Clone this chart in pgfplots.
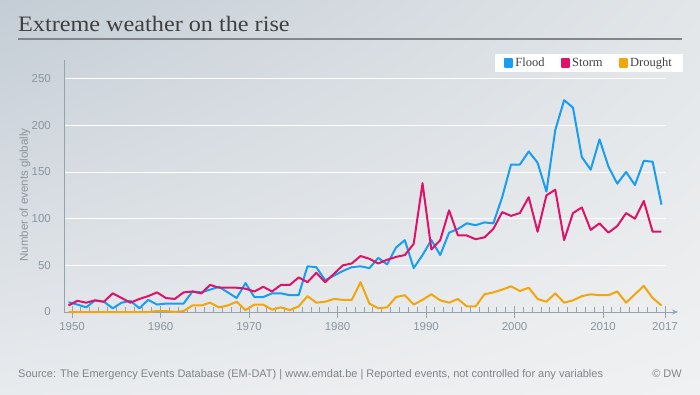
\documentclass[border=0pt]{standalone}
\usepackage{pgfplots}
\pgfplotsset{compat=1.18}
\usepackage{pgfplotstable}
\usepackage{fontspec}
\setmainfont{Liberation Serif}
\setsansfont{Liberation Sans}
\newfontfamily\titlefont[FakeStretch=1.1]{Liberation Serif}
\usetikzlibrary{arrows.meta,shadings}

\definecolor{flood}{RGB}{24,158,240}
\definecolor{storm}{RGB}{222,18,104}
\definecolor{drought}{RGB}{242,166,12}
\definecolor{axisgrey}{RGB}{150,162,172}
\definecolor{labelgrey}{RGB}{138,150,160}
\definecolor{titlegrey}{RGB}{64,64,64}
\definecolor{footgrey}{RGB}{128,132,136}
\definecolor{bgUL}{RGB}{196,205,213}
\definecolor{bgUR}{RGB}{226,230,233}
\definecolor{bgLL}{RGB}{232,235,238}
\definecolor{bgLR}{RGB}{240,241,242}

\pgfplotstableread{
year flood storm drought
1950 10.5 7 0
1951 8 12 0
1952 5 10 0
1953 12.5 12.5 0
1954 11 11 0
1955 4 20 0
1956 10 15 0
1957 12 10 0
1958 4 14 0
1959 13 17 0
1960 8 21 1
1961 9 15 1
1962 9 14 0
1963 9 21 1
1964 22 22 7
1965 21 20 7
1966 24 29 10
1967 27 26 5
1968 21 26 7
1969 15 26 11
1970 31 25 2
1971 16 22 8
1972 16 27 8
1973 20 22 2.5
1974 20 29 5
1975 18 29 2
1976 18 37 6
1977 49 32 17
1978 48 42 10
1979 34 32 11
1980 39 41 14
1981 44 50 13
1982 48 52 13
1983 49 60 32
1984 47 57 9
1985 58 52 4
1986 51 56 5
1987 69 59 16
1988 77 61 18
1989 47 73 8
1990 61 138 13
1991 77 67 19
1992 61 77 12.5
1993 85 109 10
1994 89 82 14
1995 95 82 6
1996 93 78 6
1997 96 80 19
1998 95 89 21
1999 123 107 24
2000 158 103 27.5
2001 158 106 22.5
2002 172 123 26
2003 160 86 14
2004 129 125 11
2005 195 131 20
2006 227 77 10
2007 219 106 12.5
2008 166 112 17
2009 152.5 88 19
2010 185 95 18
2011 156 85 18
2012 137.5 92 22
2013 150 106 10
2014 136 100 19
2015 162 119 28
2016 161 86 15
2017 115 86 7
}\data

\begin{document}
\begin{tikzpicture}
\shade[upper left=bgUL, upper right=bgUR, lower left=bgLL, lower right=bgLR] (0pt,0pt) rectangle (700pt,-394pt);
\node[anchor=base west, inner sep=0pt, font=\titlefont\fontsize{22}{25}\selectfont, text=titlegrey] at (18pt,-31pt) {Extreme weather on the rise};
\draw[color={rgb,255:red,130;green,134;blue,138}, line width=1.2pt] (18pt,-39pt) -- (682pt,-39pt);
\node[anchor=base west, inner sep=0pt, font=\sffamily\fontsize{11}{13}\selectfont, text=footgrey] at (18pt,-377pt) {Source: The Emergency Events Database (EM-DAT) | www.emdat.be | Reported events, not controlled for any variables};
\node[anchor=base east, inner sep=0pt, font=\sffamily\fontsize{11}{13}\selectfont, text=footgrey] at (682pt,-377pt) {© DW};
\node[rotate=90, inner sep=0pt, font=\sffamily\fontsize{11.5}{13}\selectfont, text=labelgrey] at (25pt,-195pt) {Number of events globally};

\begin{axis}[
  at={(64pt,-312pt)}, anchor=south west,
  scale only axis, width=602pt, height=252pt,
  xmin=1949.49, xmax=2017.51, ymin=0, ymax=270,
  clip=false,
  axis lines*=left,
  x axis line style={color=axisgrey, line width=1pt, -{Stealth[length=6pt,width=5pt]}, shorten >=-12pt},
  y axis line style={color=axisgrey, line width=1pt},
  xtick={1950.4,1960.4,1970.4,1980.4,1990.4,2000.4,2010.4,2017.4},
  xticklabels={1950,1960,1970,1980,1990,2000,2010,2017},
  minor xtick={1951.4,1952.4,...,2016.4},
  ytick={0,50,100,150,200,250},
  ymajorgrids,
  grid style={color=white, line width=1pt},
  ytick style={draw=none},
  xtick style={color=axisgrey, line width=1pt},
  tick align=center,
  major tick length=12pt,
  minor tick length=5pt,
  minor x tick style={yshift=2.5pt},
  /pgf/number format/assume math mode=true,
  ticklabel style={font=\sffamily\fontsize{11.5}{13}\selectfont, text=labelgrey},
  yticklabel style={inner sep=0pt, xshift=-7pt},
  xticklabel style={inner sep=0pt, yshift=-4pt},
  legend columns=3,
  legend style={at={(rel axis cs:1,1)}, anchor=north east, xshift=17pt, yshift=6pt,
    draw=none, fill=white, font=\fontsize{12.5}{14}\selectfont, text=titlegrey,
    inner xsep=9pt, inner ysep=2pt,
    /tikz/every even column/.append style={column sep=14pt}},
  legend image code/.code={\fill[#1] (0pt,-3.8pt) rectangle (7.5pt,3.8pt);},
]
\addplot[flood, line width=2pt, line join=round] table[x=year,y=flood] {\data};
\addlegendentry{Flood}
\addplot[storm, line width=2pt, line join=round] table[x=year,y=storm] {\data};
\addlegendentry{Storm}
\addplot[drought, line width=2pt, line join=round] table[x=year,y=drought] {\data};
\addlegendentry{Drought}
\end{axis}
\end{tikzpicture}
\end{document}
